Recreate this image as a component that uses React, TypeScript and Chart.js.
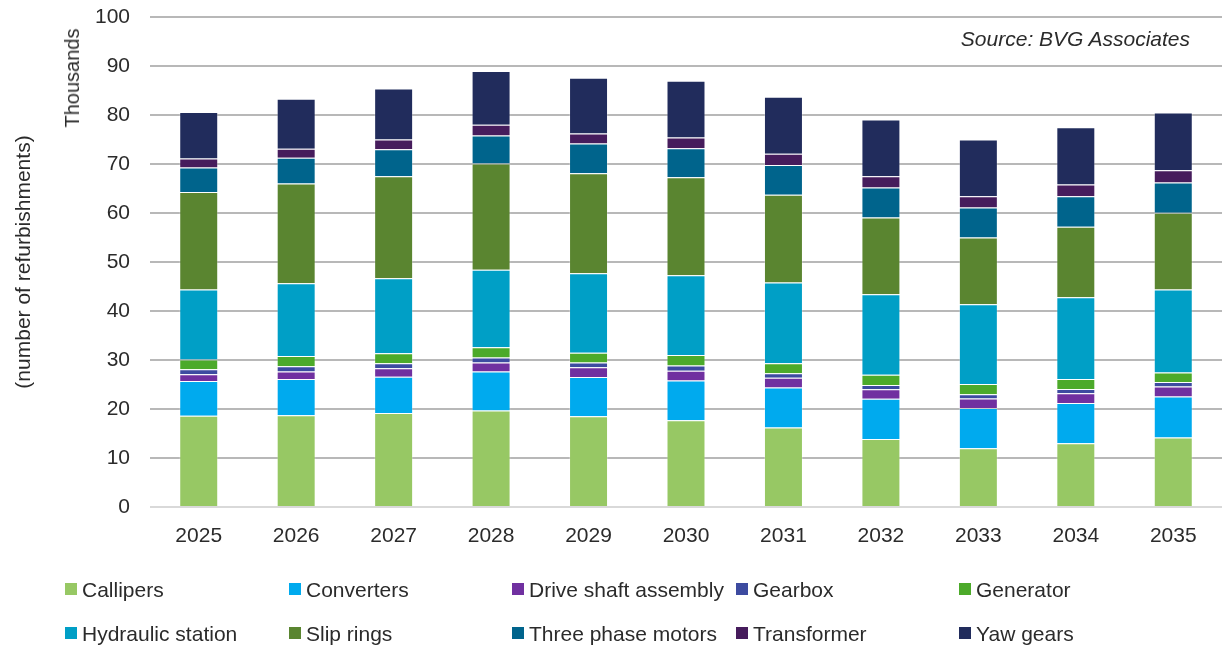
import React, { useEffect, useRef } from "react";
import { Chart, registerables } from "chart.js";

Chart.register(...registerables);

const years = ["2025", "2026", "2027", "2028", "2029", "2030", "2031", "2032", "2033", "2034", "2035"];

const callipers = [18.6, 18.75, 19.2, 19.7, 18.5, 17.7, 16.2, 13.9, 12.0, 13.0, 14.2];
const converters = [7.1, 7.35, 7.4, 7.95, 8.05, 8.1, 8.2, 8.2, 8.2, 8.2, 8.35];
const driveShaft = [1.4, 1.55, 1.7, 1.85, 1.95, 2.0, 2.0, 1.95, 1.95, 2.0, 2.05];
const gearbox = [1.0, 1.05, 1.05, 1.0, 1.0, 1.1, 0.9, 0.85, 0.85, 0.9, 0.9];
const generator = [2.0, 2.1, 2.05, 2.1, 2.0, 2.1, 2.05, 2.1, 2.1, 2.0, 1.95];
const hydraulic = [14.3, 14.85, 15.3, 15.8, 16.2, 16.3, 16.45, 16.4, 16.3, 16.7, 16.95];
const slipRings = [19.9, 20.35, 20.8, 21.7, 20.4, 20.0, 17.9, 15.7, 13.6, 14.4, 15.65];
const threePhase = [5.0, 5.3, 5.5, 5.7, 6.1, 5.9, 6.1, 6.1, 6.1, 6.2, 6.15];
const transformer = [1.8, 1.8, 2.0, 2.2, 2.0, 2.2, 2.3, 2.3, 2.3, 2.4, 2.5];
const yawGears = [9.5, 10.2, 10.4, 11.0, 11.4, 11.6, 11.6, 11.6, 11.6, 11.7, 11.8];

const seriesNames = [
  "Callipers",
  "Converters",
  "Drive shaft assembly",
  "Gearbox",
  "Generator",
  "Hydraulic station",
  "Slip rings",
  "Three phase motors",
  "Transformer",
  "Yaw gears",
];
const seriesValues = [callipers, converters, driveShaft, gearbox, generator, hydraulic, slipRings, threePhase, transformer, yawGears];
const seriesColors = [
  "#97C864",
  "#00AAEE",
  "#7030A0",
  "#3D4BA0",
  "#4CAA2A",
  "#009FC6",
  "#5A8530",
  "#00648C",
  "#461C5C",
  "#212C5C",
];

const FONT = "'Liberation Sans', Arial, sans-serif";
const TEXT = "#2b2b2b";

const legendCols = [65, 289, 512, 736, 959];
const legendRows = [590, 634];

export default function App() {
  const canvasRef = useRef<HTMLCanvasElement | null>(null);

  useEffect(() => {
    const ctx = canvasRef.current!.getContext("2d")!;
    const chart = new Chart(ctx, {
      type: "bar",
      data: {
        labels: years,
        datasets: seriesNames.map((name, i) => ({
          label: name,
          data: seriesValues[i],
          backgroundColor: seriesColors[i],
          borderColor: "rgba(255,255,255,0.25)",
          borderWidth: 1,
          barPercentage: 0.4,
          categoryPercentage: 1,
        })),
      },
      options: {
        responsive: false,
        animation: false,
        maintainAspectRatio: false,
        layout: { padding: { top: 17, right: 2, bottom: 100, left: 0 } },
        plugins: {
          legend: { display: false },
          tooltip: { enabled: false },
        },
        scales: {
          x: {
            stacked: true,
            grid: { display: false, drawTicks: false },
            border: { display: false },
            ticks: {
              color: TEXT,
              font: { family: FONT, size: 21 },
              padding: 17,
              maxRotation: 0,
            },
            afterFit: (s: any) => {
              s.height = 40;
              s.paddingLeft = 0;
              s.paddingRight = 0;
            },
          },
          y: {
            stacked: true,
            min: 0,
            max: 100,
            grid: {
              drawTicks: false,
              lineWidth: 2,
              color: (c: any) => (c.tick && c.tick.value === 0 ? "#d9d9d9" : "#b8b8b8"),
            },
            border: { display: false },
            ticks: {
              stepSize: 10,
              color: TEXT,
              font: { family: FONT, size: 21 },
              padding: 20,
            },
            title: {
              display: true,
              text: "(number of refurbishments)",
              color: TEXT,
              font: { family: FONT, size: 21 },
              padding: { top: 12, bottom: 0 },
            },
            afterFit: (s: any) => {
              s.width = 150;
              s.paddingTop = 0;
              s.paddingBottom = 0;
            },
          },
        },
      },
    });
    return () => chart.destroy();
  }, []);

  return (
    <div style={{ position: "fixed", left: 0, top: 0, width: 1224, height: 647, background: "#fff", fontFamily: FONT, color: TEXT }}>
      <canvas ref={canvasRef} width={1224} height={647} style={{ position: "absolute", left: 0, top: 0, width: 1224, height: 647 }} />
      <div
        style={{
          position: "absolute",
          left: 72,
          top: 78,
          transform: "translate(-50%, -50%) rotate(-90deg)",
          fontSize: 20,
          whiteSpace: "nowrap",
          lineHeight: 1,
        }}
      >
        Thousands
      </div>
      <div
        style={{
          position: "absolute",
          right: 1224 - 1190,
          top: 28,
          fontSize: 21,
          fontStyle: "italic",
          whiteSpace: "nowrap",
          lineHeight: 1,
        }}
      >
        Source: BVG Associates
      </div>
      {seriesNames.map((name, i) => {
        const col = i % 5;
        const row = Math.floor(i / 5);
        const bx = legendCols[col];
        const cy = legendRows[row];
        return (
          <div key={name}>
            <div
              style={{
                position: "absolute",
                left: bx,
                top: cy - 7,
                width: 12,
                height: 12,
                background: seriesColors[i],
              }}
            />
            <div
              style={{
                position: "absolute",
                left: bx + 17,
                top: cy - 12,
                fontSize: 21,
                lineHeight: "24px",
                whiteSpace: "nowrap",
              }}
            >
              {name}
            </div>
          </div>
        );
      })}
    </div>
  );
}
